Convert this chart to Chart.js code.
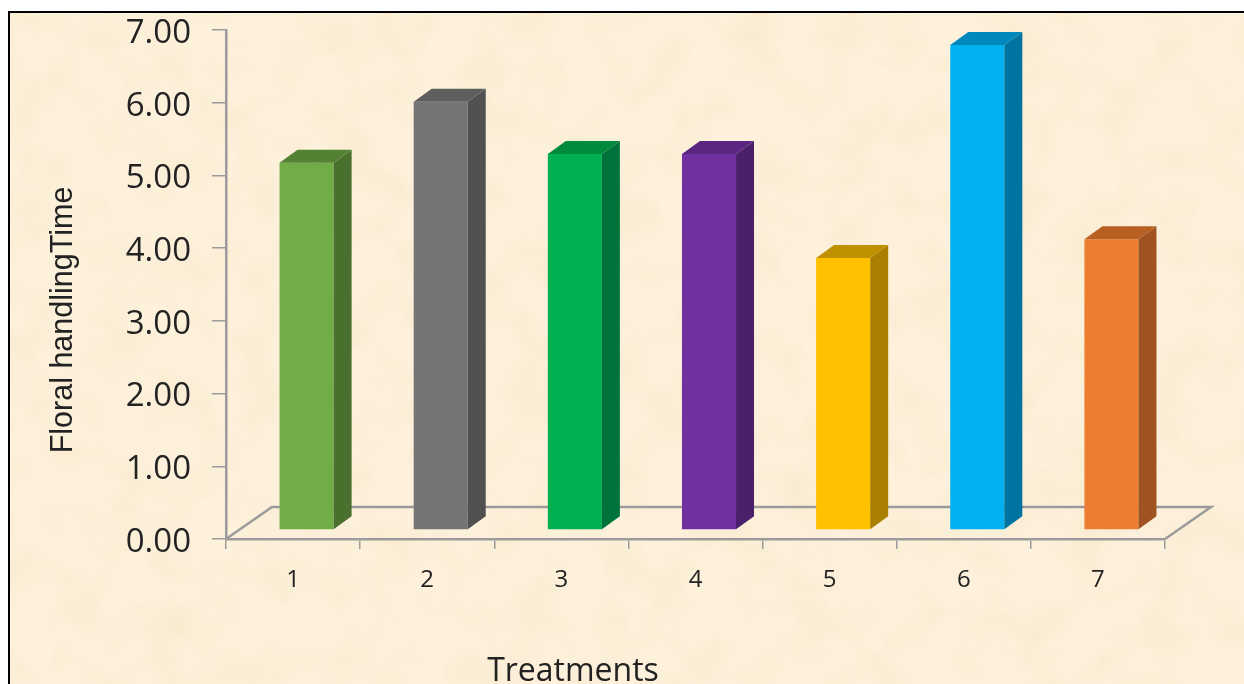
<!DOCTYPE html>
<html><head><meta charset="utf-8">
<style>
html,body{margin:0;padding:0;width:1244px;height:684px;overflow:hidden;background:#fff}
#paper{position:absolute;left:8px;top:11px;width:1236px;height:673px;box-sizing:border-box;border-left:2px solid #000;border-top:2px solid #000;background-color:#fdf1dc;
background-image:url("data:image/svg+xml,%3Csvg xmlns='http://www.w3.org/2000/svg' width='1236' height='673'%3E%3Cfilter id='n' x='0' y='0' width='100%25' height='100%25'%3E%3CfeTurbulence type='fractalNoise' baseFrequency='0.022' numOctaves='4' seed='7'/%3E%3CfeColorMatrix values='0 0 0 0 0.93 0 0 0 0 0.80 0 0 0 0 0.58 1.2 0 0 0 -0.48'/%3E%3C/filter%3E%3Crect width='1236' height='673' filter='url(%23n)'/%3E%3C/svg%3E");}
canvas{position:absolute;left:0;top:0}
</style>
<script src="https://cdn.jsdelivr.net/npm/chart.js@4"></script>
</head><body>
<div id="paper"></div>
<canvas id="c" width="1244" height="684"></canvas>
<script>
const categories = ["1","2","3","4","5","6","7"];
const handlingTime = [5.05,5.89,5.17,5.17,3.74,6.67,4.00];
const frontColors = ["#70AD47","#757575","#00B050","#7030A0","#FFC000","#00B0F0","#ED7D31"];
const sideColors  = ["#4A702E","#515151","#00733A","#4A206B","#A98000","#0074A0","#9E5320"];
const topColors   = ["#548235","#5E5E5E","#008A3E","#5A2682","#BF9000","#0088BC","#B85F22"];
const yMin = 0, yMax = 7, yStep = 1;
const xTitle = "Treatments", yTitle = "Floral handlingTime";
const axisColor = "#9B9B9B", textColor = "#222222";
const depthX = 18, depthY = 13;
const floorX = 46, floorY = 32;
const barShiftX = 13.5, barShiftY = -9;
const yLabelNudge = 3.5;

const extrude = {
  id:"extrude",
  beforeDatasetsDraw(chart){
    const {ctx,chartArea:a} = chart;
    ctx.save();
    ctx.strokeStyle = axisColor; ctx.lineWidth = 2.5;
    ctx.beginPath();
    ctx.moveTo(a.left,a.bottom);
    ctx.lineTo(a.left+floorX,a.bottom-floorY);
    ctx.lineTo(a.right+floorX,a.bottom-floorY);
    ctx.lineTo(a.right,a.bottom);
    ctx.stroke();
    ctx.restore();
  },
  beforeDatasetDraw(chart){
    chart.ctx.save();
    chart.ctx.translate(barShiftX,barShiftY);
  },
  afterDatasetDraw(chart,args){
    const {ctx} = chart;
    args.meta.data.forEach((bar,i)=>{
      const p = bar.getProps(["x","y","base","width"],true);
      const l = p.x-p.width/2, r = p.x+p.width/2;
      ctx.fillStyle = sideColors[i];
      ctx.beginPath();
      ctx.moveTo(r,p.y); ctx.lineTo(r+depthX,p.y-depthY);
      ctx.lineTo(r+depthX,p.base-depthY); ctx.lineTo(r,p.base);
      ctx.closePath(); ctx.fill();
      ctx.fillStyle = topColors[i];
      ctx.beginPath();
      ctx.moveTo(l,p.y); ctx.lineTo(l+depthX,p.y-depthY);
      ctx.lineTo(r+depthX,p.y-depthY); ctx.lineTo(r,p.y);
      ctx.closePath(); ctx.fill();
    });
    ctx.restore();
  },
  afterDraw(chart){
    const {ctx} = chart;
    ctx.save();
    ctx.fillStyle = textColor;
    ctx.textAlign = "center"; ctx.textBaseline = "middle";
    ctx.font = "32px 'Open Sans'";
    ctx.fillText(xTitle,573,672);
    ctx.translate(64,320);
    ctx.rotate(-Math.PI/2);
    ctx.font = "30.5px 'Liberation Sans'";
    ctx.fillText(yTitle,0,0);
    ctx.restore();
  }
};

new Chart(document.getElementById("c"),{
  type:"bar",
  data:{labels:categories,datasets:[{data:handlingTime,backgroundColor:frontColors,borderWidth:0,barPercentage:0.403,categoryPercentage:1}]},
  plugins:[extrude],
  options:{
    responsive:false,animation:false,devicePixelRatio:1,
    layout:{padding:{left:0,right:79,top:30,bottom:0}},
    plugins:{legend:{display:false},tooltip:{enabled:false}},
    scales:{
      x:{
        afterFit(s){s.height=145;s.paddingLeft=0;s.paddingRight=0;},
        grid:{drawOnChartArea:false,drawTicks:true,tickLength:10,color:axisColor,lineWidth:1.5},
        border:{color:axisColor,width:2.5},
        ticks:{color:textColor,font:{family:"Open Sans",size:24},padding:17,maxRotation:0}
      },
      y:{
        min:yMin,max:yMax,
        afterFit(s){s.width=226;s.paddingTop=0;s.paddingBottom=0;},
        afterUpdate(s){
          if(s._nudged) return;
          s._nudged = true;
          const draw = s.drawLabels;
          s.drawLabels = function(area){
            this.ctx.save();
            this.ctx.translate(0,yLabelNudge);
            draw.call(this,area);
            this.ctx.restore();
          };
        },
        grid:{drawOnChartArea:false,drawTicks:true,tickLength:14,color:axisColor,lineWidth:1.5},
        border:{color:axisColor,width:2.5},
        ticks:{stepSize:yStep,color:textColor,font:{family:"Open Sans",size:33},padding:21,callback:v=>v.toFixed(2)}
      }
    }
  }
});
</script>
</body></html>
